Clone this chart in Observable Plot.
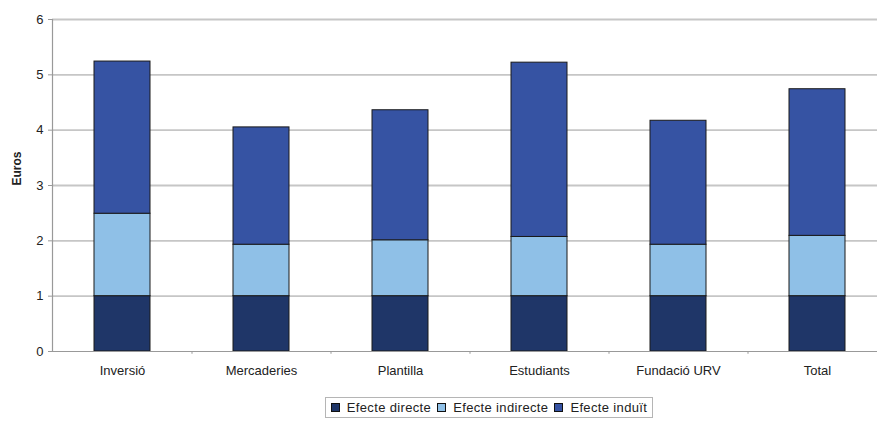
<!DOCTYPE html>
<html>
<head>
<meta charset="utf-8">
<script src="https://cdn.jsdelivr.net/npm/d3@7"></script>
<script src="https://cdn.jsdelivr.net/npm/@observablehq/plot@0.6"></script>
<style>
  html, body { margin: 0; padding: 0; background: #fff; overflow: hidden; }
  body { width: 877px; height: 426px; font-family: "Liberation Sans", Arial, sans-serif; }
  #chart { position: relative; width: 877px; height: 390px; }
  #legend {
    position: absolute; left: 325px; top: 397px; width: 326px; height: 19px;
    border: 1px solid #b5b5b5; display: flex; align-items: center; justify-content: center;
    font-size: 13px; letter-spacing: 0.35px; color: #222; box-sizing: content-box;
  }
  #legend .item { display: flex; align-items: center; margin: 0 3px; }
  #legend .sw { width: 7px; height: 7px; border: 1px solid #111; margin-right: 7px; }
</style>
</head>
<body>
<div id="chart"></div>
<div id="legend"></div>
<script>
const categories = ["Inversió", "Mercaderies", "Plantilla", "Estudiants", "Fundació URV", "Total"];
const seriesNames = ["Efecte directe", "Efecte indirecte", "Efecte induït"];
const legendLabels = ["Efecte directe", "Efecte indirecte", "Efecte induït"];
const directe = [1.0, 1.0, 1.0, 1.0, 1.0, 1.0];
const indirecte = [1.49, 0.93, 1.01, 1.07, 0.93, 1.09];
const induit = [2.75, 2.12, 2.35, 3.15, 2.24, 2.65];
const yTicks = [0, 1, 2, 3, 4, 5, 6];
const colors = ["#1f3668", "#8fc0e7", "#3653a3"];

const seriesValues = [directe, indirecte, induit];
const data = [];
seriesNames.forEach((s, si) => {
  categories.forEach((c, ci) => data.push({cat: c, series: s, value: seriesValues[si][ci]}));
});

const W = 877, H = 390, mL = 52, mR = -9, mT = 19, mB = 39;
const step = (W - mL - mR) / categories.length;

const plot = Plot.plot({
  width: W,
  height: H,
  marginLeft: mL,
  marginRight: mR,
  marginTop: mT,
  marginBottom: mB,
  style: {fontFamily: "'Liberation Sans', Arial, sans-serif", fontSize: "13px", background: "#fff", color: "#222"},
  x: {domain: categories, paddingInner: 0.6, paddingOuter: 0.3, label: null},
  y: {domain: [0, 6], label: null},
  color: {domain: seriesNames, range: colors},
  marks: [
    Plot.ruleY(yTicks.filter(d => d > 0), {stroke: "#c6c6c6", strokeWidth: 1.8}),
    Plot.barY(data, {x: "cat", y: "value", fill: "series", stroke: "#1a1a1a", strokeWidth: 1, order: seriesNames}),
    Plot.ruleY([0], {stroke: "#999", strokeWidth: 1.2}),
    Plot.frame({anchor: "left", stroke: "#999", strokeWidth: 1.2}),
    Plot.ruleX(categories.slice(0, -1), {x: d => d, dx: step / 2, y1: 0, y2: -0.05, stroke: "#999"}),
    Plot.axisY({ticks: yTicks, tickFormat: d3.format("d"), tickSize: 4, tickPadding: 5, stroke: "#999", fontSize: 13, label: null, letterSpacing: 0.3}),
    Plot.axisX({tickSize: 0, tickPadding: 14, fontSize: 13, label: null, letterSpacing: 0.3}),
    Plot.text(["Euros"], {frameAnchor: "left", dx: -35, rotate: -90, text: d => d, fontWeight: "bold", fontSize: 12})
  ]
});
document.getElementById("chart").appendChild(plot);

const legend = document.getElementById("legend");
legendLabels.forEach((l, i) => {
  const item = document.createElement("div");
  item.className = "item";
  const sw = document.createElement("div");
  sw.className = "sw";
  sw.style.background = colors[i];
  const t = document.createElement("span");
  t.textContent = l;
  item.appendChild(sw);
  item.appendChild(t);
  legend.appendChild(item);
});
</script>
</body>
</html>
